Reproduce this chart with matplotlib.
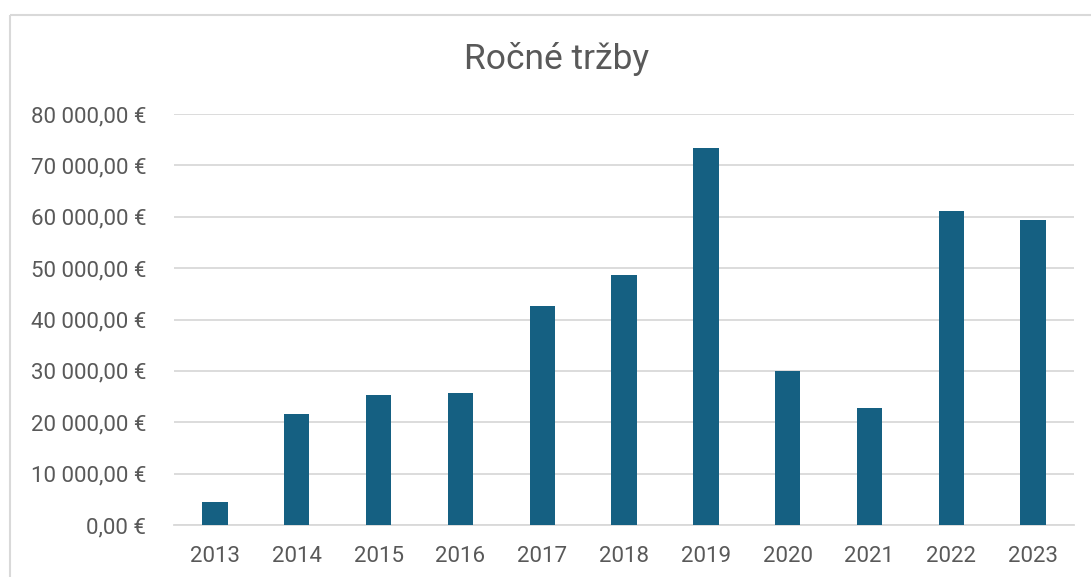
import matplotlib.pyplot as plt
from matplotlib.patches import Rectangle
from matplotlib.ticker import FuncFormatter

years = ["2013", "2014", "2015", "2016", "2017", "2018", "2019", "2020", "2021", "2022", "2023"]
revenue = [4470, 21600, 25300, 25700, 42600, 48600, 73400, 29900, 22850, 61150, 59450]

BAR = "#156082"
TEXT = "#595959"
GRID = "#D9D9D9"

plt.rcParams['font.family'] = ['Roboto', 'DejaVu Sans']


def euro(v, pos):
    s = f"{v:,.2f}".replace(",", " ").replace(".", ",")
    return s + " €"


def main():
    W, H = 1091, 577
    fig = plt.figure(figsize=(W / 100, H / 100), dpi=100)

    # chart frame (only top/left edge visible in the crop)
    fig.patches.append(Rectangle((10 / W, 1 - 15 / H), 2, -2, transform=fig.transFigure,
                                 fill=False, edgecolor=GRID, linewidth=1.5))

    ax = fig.add_axes([174 / W, 1 - 525 / H, 900 / W, (525 - 114) / H])
    x = range(len(years))
    ax.bar(x, revenue, width=0.31, color=BAR, zorder=3)

    ax.set_xlim(-0.5, len(years) - 0.5)
    ax.set_ylim(0, 80000)
    ax.set_yticks(range(0, 80001, 10000))
    ax.yaxis.set_major_formatter(FuncFormatter(euro))
    ax.set_xticks(list(x))
    ax.set_xticklabels(years)

    ax.grid(axis='y', color=GRID, linewidth=1.3, zorder=0)
    for side in ['top', 'right', 'left']:
        ax.spines[side].set_visible(False)
    ax.spines['bottom'].set_color(GRID)
    ax.spines['bottom'].set_linewidth(1.3)
    ax.tick_params(length=0, labelsize=16, colors=TEXT)
    ax.tick_params(axis='y', pad=20)
    ax.tick_params(axis='x', pad=15)

    fig.text(557 / W, 1 - 59 / H, "Ročné tržby", ha='center', va='center',
             fontsize=25.5, color=TEXT)

    plt.savefig("out.png", dpi=100)


if __name__ == "__main__":
    main()
